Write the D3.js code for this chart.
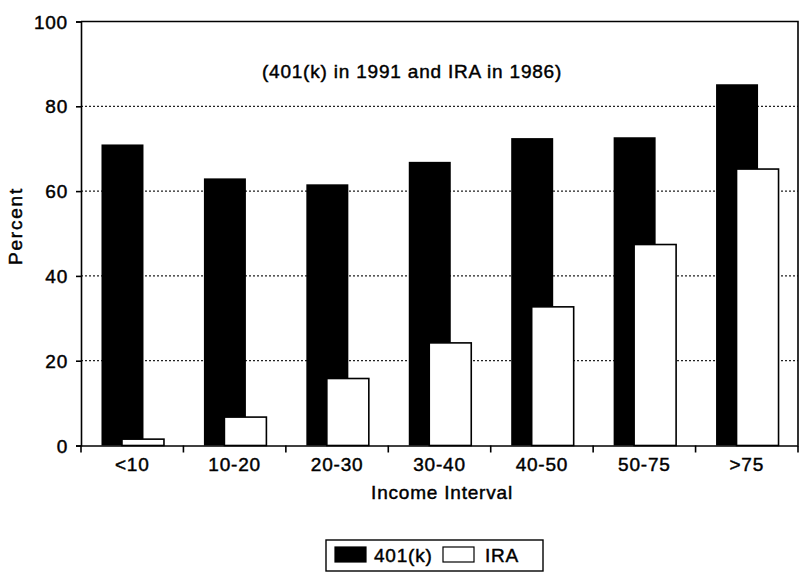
<!DOCTYPE html>
<html>
<head>
<meta charset="utf-8">
<script src="https://cdn.jsdelivr.net/npm/d3@7"></script>
<style>
  html, body { margin: 0; padding: 0; background: #fff; }
  svg { display: block; }
  text { font-family: "Liberation Sans", Arial, sans-serif; fill: #000; stroke: #000; stroke-width: 0.45px; }
</style>
</head>
<body>
<svg id="chart" width="804" height="581"></svg>
<script>
// Participation rates by income interval
const categories = ["<10", "10-20", "20-30", "30-40", "40-50", "50-75", ">75"];
const k401Values = [71.0, 63.0, 61.6, 66.9, 72.5, 72.7, 85.2];
const iraValues  = [1.5, 6.7, 15.8, 24.2, 32.7, 47.4, 65.2];
const yTicks = [0, 20, 40, 60, 80, 100];
const seriesNames = ["401(k)", "IRA"];

const svg = d3.select("#chart");
const margin = { left: 81, right: 6, top: 21.5, bottom: 135.5 };
const W = 804, H = 581;
const plotL = margin.left, plotR = W - margin.right;
const plotT = margin.top, plotB = H - margin.bottom;

const x = d3.scaleBand().domain(categories).range([plotL, plotR]).padding(0);
const y = d3.scaleLinear().domain([0, 100]).range([plotB, plotT]);
// position within a category band (0..1 of its width)
const inBand = d3.scaleLinear().domain([0, 1]).range([0, x.bandwidth()]);
const barW = inBand(0.41);

const font = { size: 19, spacing: 0.8 };

// dotted gridlines
svg.append("g")
  .selectAll("line")
  .data(yTicks.filter(d => d > 0 && d < 100))
  .join("line")
  .attr("x1", plotL).attr("x2", plotR)
  .attr("y1", d => y(d)).attr("y2", d => y(d))
  .attr("stroke", "#222")
  .attr("stroke-width", 1.2)
  .attr("stroke-dasharray", "2,2");

// plot frame: top and right borders
svg.append("path")
  .attr("d", `M${plotL},${plotT}H${plotR}V${plotB}`)
  .attr("fill", "none").attr("stroke", "#000").attr("stroke-width", 1.6);

// 401(k) bars (black)
svg.append("g")
  .selectAll("rect")
  .data(categories.map((c, i) => ({ c, v: k401Values[i] })))
  .join("rect")
  .attr("x", d => x(d.c) + inBand(0.2))
  .attr("y", d => y(d.v))
  .attr("width", barW)
  .attr("height", d => y(0) - y(d.v))
  .attr("fill", "#000");

// IRA bars (white, outlined), overlapping the black bars
svg.append("g")
  .selectAll("rect")
  .data(categories.map((c, i) => ({ c, v: iraValues[i] })))
  .join("rect")
  .attr("x", d => x(d.c) + inBand(0.4))
  .attr("y", d => y(d.v))
  .attr("width", barW)
  .attr("height", d => y(0) - y(d.v))
  .attr("fill", "#fff")
  .attr("stroke", "#000")
  .attr("stroke-width", 1.6);

// y axis
const yAxis = svg.append("g")
  .attr("transform", `translate(${plotL},0)`)
  .call(d3.axisLeft(y).tickValues(yTicks).tickSize(5).tickPadding(8).tickFormat(d3.format("d")));
yAxis.select(".domain").attr("stroke", "#000").attr("stroke-width", 1.6);
yAxis.selectAll(".tick line").attr("stroke", "#000").attr("stroke-width", 1.6);
yAxis.selectAll(".tick text")
  .attr("font-size", font.size)
  .attr("letter-spacing", font.spacing)
  .attr("dy", "0.35em")
  .style("font-family", "Liberation Sans, Arial, sans-serif");

// x axis: labels centered in each band, ticks at band boundaries
const xAxis = svg.append("g")
  .attr("transform", `translate(0,${plotB})`)
  .call(d3.axisBottom(x).tickSize(0).tickPadding(12));
xAxis.select(".domain").attr("stroke", "#000").attr("stroke-width", 1.6);
xAxis.selectAll(".tick text")
  .attr("font-size", font.size)
  .attr("letter-spacing", font.spacing)
  .style("font-family", "Liberation Sans, Arial, sans-serif");

svg.append("g")
  .selectAll("line")
  .data(categories.map(c => x(c)).concat([plotR]))
  .join("line")
  .attr("x1", d => d).attr("x2", d => d)
  .attr("y1", plotB).attr("y2", plotB + 7)
  .attr("stroke", "#000").attr("stroke-width", 1.6);

// annotation inside the plot
svg.append("text")
  .attr("x", 412).attr("y", 78)
  .attr("text-anchor", "middle")
  .attr("font-size", font.size)
  .attr("letter-spacing", font.spacing)
  .text("(401(k) in 1991 and IRA in 1986)");

// axis titles
svg.append("text")
  .attr("x", 442).attr("y", 499)
  .attr("text-anchor", "middle")
  .attr("font-size", font.size)
  .attr("letter-spacing", font.spacing)
  .text("Income Interval");

svg.append("text")
  .attr("transform", "translate(22,226) rotate(-90)")
  .attr("text-anchor", "middle")
  .attr("font-size", font.size)
  .attr("letter-spacing", 1.8)
  .text("Percent");

// legend
const legend = svg.append("g");
legend.append("rect")
  .attr("x", 326).attr("y", 540).attr("width", 217).attr("height", 31)
  .attr("fill", "#fff").attr("stroke", "#000").attr("stroke-width", 1.4);
const swatchFill = ["#000", "#fff"];
const swatchX = [335, 443];
const labelX = [374, 485];
seriesNames.forEach((name, i) => {
  legend.append("rect")
    .attr("x", swatchX[i]).attr("y", 547).attr("width", 31).attr("height", 15)
    .attr("fill", swatchFill[i]).attr("stroke", "#000").attr("stroke-width", 1.2);
  legend.append("text")
    .attr("x", labelX[i]).attr("y", 562)
    .attr("font-size", font.size)
    .attr("letter-spacing", font.spacing)
    .text(name);
});
</script>
</body>
</html>
